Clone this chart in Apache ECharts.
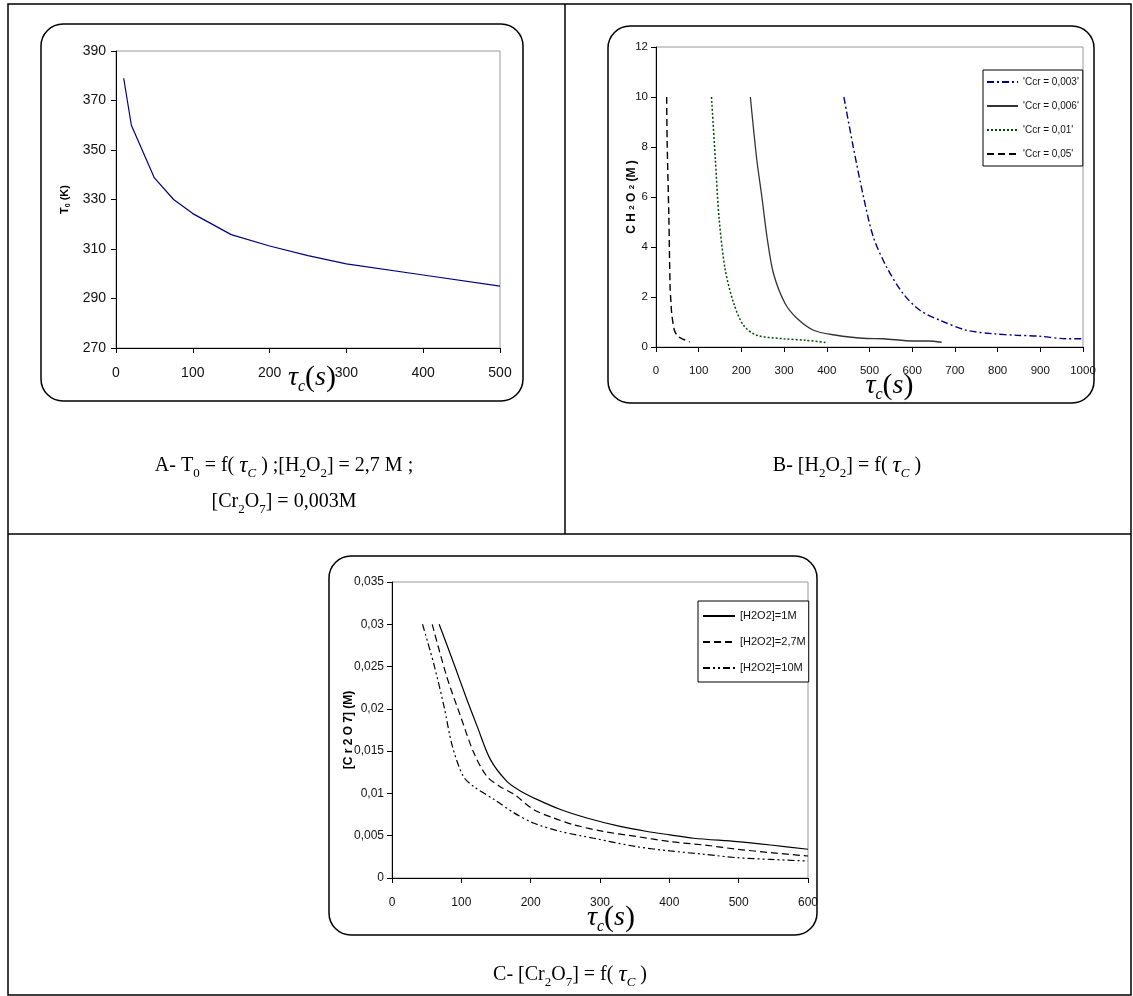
<!DOCTYPE html>
<html>
<head>
<meta charset="utf-8">
<script src="https://cdn.jsdelivr.net/npm/echarts@6/dist/echarts.min.js"></script>
<style>
html,body{margin:0;padding:0;background:#fff;}
#c{width:1133px;height:996px;}
</style>
</head>
<body>
<div id="c"></div>
<script>
// ---------- DATA ----------
// Chart A: T0 vs tau_c
const tauA = [10, 20, 50, 75, 100, 150, 200, 250, 300, 400, 500];
const T0 = [379, 360, 338.7, 330, 324.3, 315.8, 311.2, 307.3, 304, 299.5, 295];

// Chart B: CH2O2 vs tau_c for several Ccr
const bNames = ["'Ccr = 0,003'", "'Ccr = 0,006'", "'Ccr = 0,01'", "'Ccr = 0,05'"];
const b003x = [440, 462, 486, 509, 540, 579, 618, 665, 727, 790, 844, 899, 961, 1000];
const b003y = [10, 8, 6, 4.4, 3.2, 2.13, 1.47, 1.07, 0.67, 0.53, 0.47, 0.43, 0.33, 0.33];
const b006x = [221, 236, 248, 260, 275, 302, 330, 369, 415, 493, 532, 603, 638, 669];
const b006y = [10, 7.5, 6, 4.4, 2.95, 1.75, 1.15, 0.67, 0.49, 0.34, 0.33, 0.24, 0.24, 0.19];
const b01x = [130, 139, 148, 162, 182, 205, 236, 299, 350, 402];
const b01y = [10, 7.5, 5.1, 3.1, 1.75, 0.87, 0.47, 0.33, 0.27, 0.17];
const b05x = [25, 26, 30, 33, 35, 37, 43, 48, 53, 65, 79];
const b05y = [10, 8.3, 5.3, 2.4, 1.8, 1.3, 0.67, 0.5, 0.4, 0.3, 0.2];

// Chart C: Cr2O7 vs tau_c for several H2O2
const cNames = ['[H2O2]=1M', '[H2O2]=2,7M', '[H2O2]=10M'];
const c1x = [68, 89, 108, 123, 142, 166, 185, 209, 243, 281, 329, 368, 401, 435, 498, 546, 600];
const c1y = [0.03, 0.0254, 0.0211, 0.0179, 0.014, 0.0114, 0.0103, 0.0093, 0.0081, 0.0071, 0.0061, 0.0055, 0.0051, 0.0047, 0.0043, 0.0039, 0.0034];
const c27x = [58, 79, 99, 118, 137, 156, 176, 204, 233, 262, 305, 353, 401, 450, 498, 546, 600];
const c27y = [0.03, 0.0238, 0.0191, 0.0148, 0.012, 0.0108, 0.0099, 0.0081, 0.0071, 0.0063, 0.0055, 0.0049, 0.0043, 0.0039, 0.0034, 0.003, 0.0026];
const c10x = [44, 60, 75, 87, 103, 118, 147, 176, 204, 243, 291, 353, 401, 450, 498, 546, 600];
const c10y = [0.03, 0.0254, 0.0203, 0.0156, 0.012, 0.0108, 0.0093, 0.0077, 0.0065, 0.0055, 0.0047, 0.0037, 0.0032, 0.0028, 0.0024, 0.0022, 0.002];

// ---------- HELPERS ----------
const zip = (xs, ys) => xs.map((x, i) => [x, ys[i]]);
const SANS = 'Liberation Sans, Arial, sans-serif';
const NARROW = '"Liberation Sans Narrow", "Arial Narrow", "Liberation Sans", Arial, sans-serif';
const SERIF = 'Liberation Serif, "Times New Roman", serif';

const tauRich = {
  t: {fontFamily: SERIF, fontStyle: 'italic', fontSize: 28, lineHeight: 34, color: '#000'},
  c: {fontFamily: SERIF, fontStyle: 'italic', fontSize: 16, lineHeight: 34, verticalAlign: 'bottom', color: '#000'},
  p: {fontFamily: SERIF, fontSize: 30, lineHeight: 34, color: '#000'},
  s: {fontFamily: SERIF, fontStyle: 'italic', fontSize: 28, lineHeight: 34, color: '#000'}
};
const tauName = '{t|τ}{c|c}{p|(}{s|s}{p|)}';

const capRich = {
  n: {fontFamily: SERIF, fontSize: 20, lineHeight: 28, color: '#000'},
  s: {fontFamily: SERIF, fontSize: 13, lineHeight: 28, verticalAlign: 'bottom', color: '#000'},
  t: {fontFamily: SERIF, fontStyle: 'italic', fontSize: 23, lineHeight: 28, color: '#000'},
  c: {fontFamily: SERIF, fontStyle: 'italic', fontSize: 13, lineHeight: 28, verticalAlign: 'bottom', color: '#000'}
};

const plainNum = v => String(v);

function axisCommon(font, size, margin) {
  return {
    nameMoveOverlap: false,
    axisLine: {show: true, lineStyle: {color: '#000', width: 1}},
    axisTick: {show: true, inside: false, length: 5, lineStyle: {color: '#000'}},
    splitLine: {show: false},
    axisLabel: {fontFamily: font, fontSize: size, color: '#111', margin: margin, formatter: plainNum}
  };
}

const legendIconHide = {color: 'transparent', borderColor: 'transparent', borderWidth: 0, opacity: 0};

const chart = echarts.init(document.getElementById('c'), null, {renderer: 'canvas'});

const option = {
  animation: false,
  backgroundColor: '#fff',
  grid: [
    {left: 116, top: 51, width: 384, height: 297, show: true, borderColor: '#999', borderWidth: 1, backgroundColor: 'transparent'},
    {left: 656, top: 47, width: 427, height: 300, show: true, borderColor: '#999', borderWidth: 1, backgroundColor: 'transparent'},
    {left: 392, top: 582, width: 416, height: 296, show: true, borderColor: '#999', borderWidth: 1, backgroundColor: 'transparent'}
  ],
  xAxis: [
    Object.assign(axisCommon(SANS, 14, 18), {
      gridIndex: 0, type: 'value', min: 0, max: 500, interval: 100,
      name: tauName, nameLocation: 'middle', nameGap: 13,
      nameTextStyle: {rich: tauRich, padding: [0, 0, 0, 8]}
    }),
    Object.assign(axisCommon(NARROW, 11.5, 18), {
      gridIndex: 1, type: 'value', min: 0, max: 1000, interval: 100,
      name: tauName, nameLocation: 'middle', nameGap: 22,
      nameTextStyle: {rich: tauRich, padding: [0, 0, 0, 40]}
    }),
    Object.assign(axisCommon(NARROW, 12, 19), {
      gridIndex: 2, type: 'value', min: 0, max: 600, interval: 100,
      name: tauName, nameLocation: 'middle', nameGap: 23,
      nameTextStyle: {rich: tauRich, padding: [0, 0, 0, 22]}
    })
  ],
  yAxis: [
    Object.assign(axisCommon(SANS, 14, 10), {
      gridIndex: 0, type: 'value', min: 270, max: 390, interval: 20,
      name: '{b|T}{s|0}{b| (K)}', nameLocation: 'middle', nameGap: 44, nameRotate: 90,
      nameTextStyle: {rich: {
        b: {fontFamily: SANS, fontWeight: 'bold', fontSize: 11, lineHeight: 14, color: '#000'},
        s: {fontFamily: SANS, fontWeight: 'bold', fontSize: 7, lineHeight: 14, verticalAlign: 'bottom', color: '#000'}
      }}
    }),
    Object.assign(axisCommon(NARROW, 11.5, 8), {
      gridIndex: 1, type: 'value', min: 0, max: 12, interval: 2,
      name: '{b|C H }{s|2}{b| O }{s|2}{b| (M )}', nameLocation: 'middle', nameGap: 17, nameRotate: 90,
      nameTextStyle: {rich: {
        b: {fontFamily: SANS, fontWeight: 'bold', fontSize: 12, lineHeight: 14, color: '#000'},
        s: {fontFamily: SANS, fontWeight: 'bold', fontSize: 8, lineHeight: 14, color: '#000'}
      }}
    }),
    Object.assign(axisCommon(NARROW, 12, 8), {
      gridIndex: 2, type: 'value', min: 0, max: 0.035, interval: 0.005,
      name: '[C r 2 O 7] (M)', nameLocation: 'middle', nameGap: 37, nameRotate: 90,
      nameTextStyle: {fontFamily: SANS, fontWeight: 'bold', fontSize: 12, color: '#000'},
      axisLabel: {fontFamily: NARROW, fontSize: 12, color: '#111', margin: 8,
        formatter: v => String(+v.toFixed(4)).replace('.', ',')}
    })
  ],
  legend: [
    {
      show: true, orient: 'vertical', left: 983, top: 70,
      data: bNames,
      itemWidth: 31, itemHeight: 10, itemGap: 10,
      padding: [5, 4, 5, 3],
      borderColor: '#000', borderWidth: 1, backgroundColor: '#fff',
      itemStyle: legendIconHide,
      textStyle: {fontFamily: NARROW, fontSize: 10, lineHeight: 14, color: '#111'},
      selectedMode: false
    },
    {
      show: true, orient: 'vertical', left: 698, top: 601,
      data: cNames,
      itemWidth: 32, itemHeight: 10, itemGap: 10,
      padding: [7, 3, 6, 4],
      borderColor: '#000', borderWidth: 1, backgroundColor: '#fff',
      itemStyle: legendIconHide,
      textStyle: {fontFamily: NARROW, fontSize: 11, lineHeight: 16, color: '#111'},
      selectedMode: false
    }
  ],
  series: [
    {type: 'line', xAxisIndex: 0, yAxisIndex: 0, data: zip(tauA, T0), showSymbol: false, symbol: 'none',
      lineStyle: {color: '#00007f', width: 1.2}},
    {name: bNames[0], type: 'line', xAxisIndex: 1, yAxisIndex: 1, data: zip(b003x, b003y), symbol: 'none', smooth: 0.3,
      lineStyle: {color: '#000080', width: 1.4, type: [7, 3, 2, 3]}, itemStyle: {color: '#000080'}},
    {name: bNames[1], type: 'line', xAxisIndex: 1, yAxisIndex: 1, data: zip(b006x, b006y), symbol: 'none', smooth: 0.3,
      lineStyle: {color: '#333', width: 1.3, type: 'solid'}, itemStyle: {color: '#333'}},
    {name: bNames[2], type: 'line', xAxisIndex: 1, yAxisIndex: 1, data: zip(b01x, b01y), symbol: 'none', smooth: 0.3,
      lineStyle: {color: '#004d00', width: 1.5, type: [2, 2]}, itemStyle: {color: '#004d00'}},
    {name: bNames[3], type: 'line', xAxisIndex: 1, yAxisIndex: 1, data: zip(b05x, b05y), symbol: 'none', smooth: 0.3,
      lineStyle: {color: '#000', width: 1.4, type: [7, 4]}, itemStyle: {color: '#000'}},
    {name: cNames[0], type: 'line', xAxisIndex: 2, yAxisIndex: 2, data: zip(c1x, c1y), symbol: 'none', smooth: 0.3,
      lineStyle: {color: '#000', width: 1.2, type: 'solid'}, itemStyle: {color: '#000'}},
    {name: cNames[1], type: 'line', xAxisIndex: 2, yAxisIndex: 2, data: zip(c27x, c27y), symbol: 'none', smooth: 0.3,
      lineStyle: {color: '#000', width: 1.2, type: [7, 4]}, itemStyle: {color: '#000'}},
    {name: cNames[2], type: 'line', xAxisIndex: 2, yAxisIndex: 2, data: zip(c10x, c10y), symbol: 'none', smooth: 0.3,
      lineStyle: {color: '#000', width: 1.2, type: [7, 3, 2, 3, 2, 3]}, itemStyle: {color: '#000'}}
  ],
  graphic: [
    {type: 'rect', shape: {x: 8, y: 4, width: 1123, height: 991}, style: {fill: 'none', stroke: '#000', lineWidth: 1.5}, silent: true},
    {type: 'line', shape: {x1: 565, y1: 4, x2: 565, y2: 534}, style: {stroke: '#000', lineWidth: 1.5}, silent: true},
    {type: 'line', shape: {x1: 8, y1: 534, x2: 1131, y2: 534}, style: {stroke: '#000', lineWidth: 1.5}, silent: true},
    {type: 'rect', shape: {x: 41, y: 24, width: 482, height: 377, r: 22}, style: {fill: 'none', stroke: '#000', lineWidth: 1.5}, silent: true, z: -1},
    {type: 'rect', shape: {x: 608, y: 26, width: 486, height: 377, r: 22}, style: {fill: 'none', stroke: '#000', lineWidth: 1.5}, silent: true, z: -1},
    {type: 'rect', shape: {x: 329, y: 556, width: 488, height: 379, r: 22}, style: {fill: 'none', stroke: '#000', lineWidth: 1.5}, silent: true, z: -1},
    {type: 'text', x: 284, y: 466, silent: true, style: {
      text: '{n|A- T}{s|0}{n| = f( }{t|τ}{c|C}{n| ) ;[H}{s|2}{n|O}{s|2}{n|] = 2,7 M ;}',
      rich: capRich, align: 'center', verticalAlign: 'middle'}},
    {type: 'text', x: 284, y: 502, silent: true, style: {
      text: '{n|[Cr}{s|2}{n|O}{s|7}{n|] = 0,003M}',
      rich: capRich, align: 'center', verticalAlign: 'middle'}},
    {type: 'text', x: 847, y: 466, silent: true, style: {
      text: '{n|B- [H}{s|2}{n|O}{s|2}{n|] = f( }{t|τ}{c|C}{n| )}',
      rich: capRich, align: 'center', verticalAlign: 'middle'}},
    {type: 'text', x: 570, y: 975, silent: true, style: {
      text: '{n|C- [Cr}{s|2}{n|O}{s|7}{n|] = f( }{t|τ}{c|C}{n| )}',
      rich: capRich, align: 'center', verticalAlign: 'middle'}}
  ]
};
chart.setOption(option);
</script>
</body>
</html>
